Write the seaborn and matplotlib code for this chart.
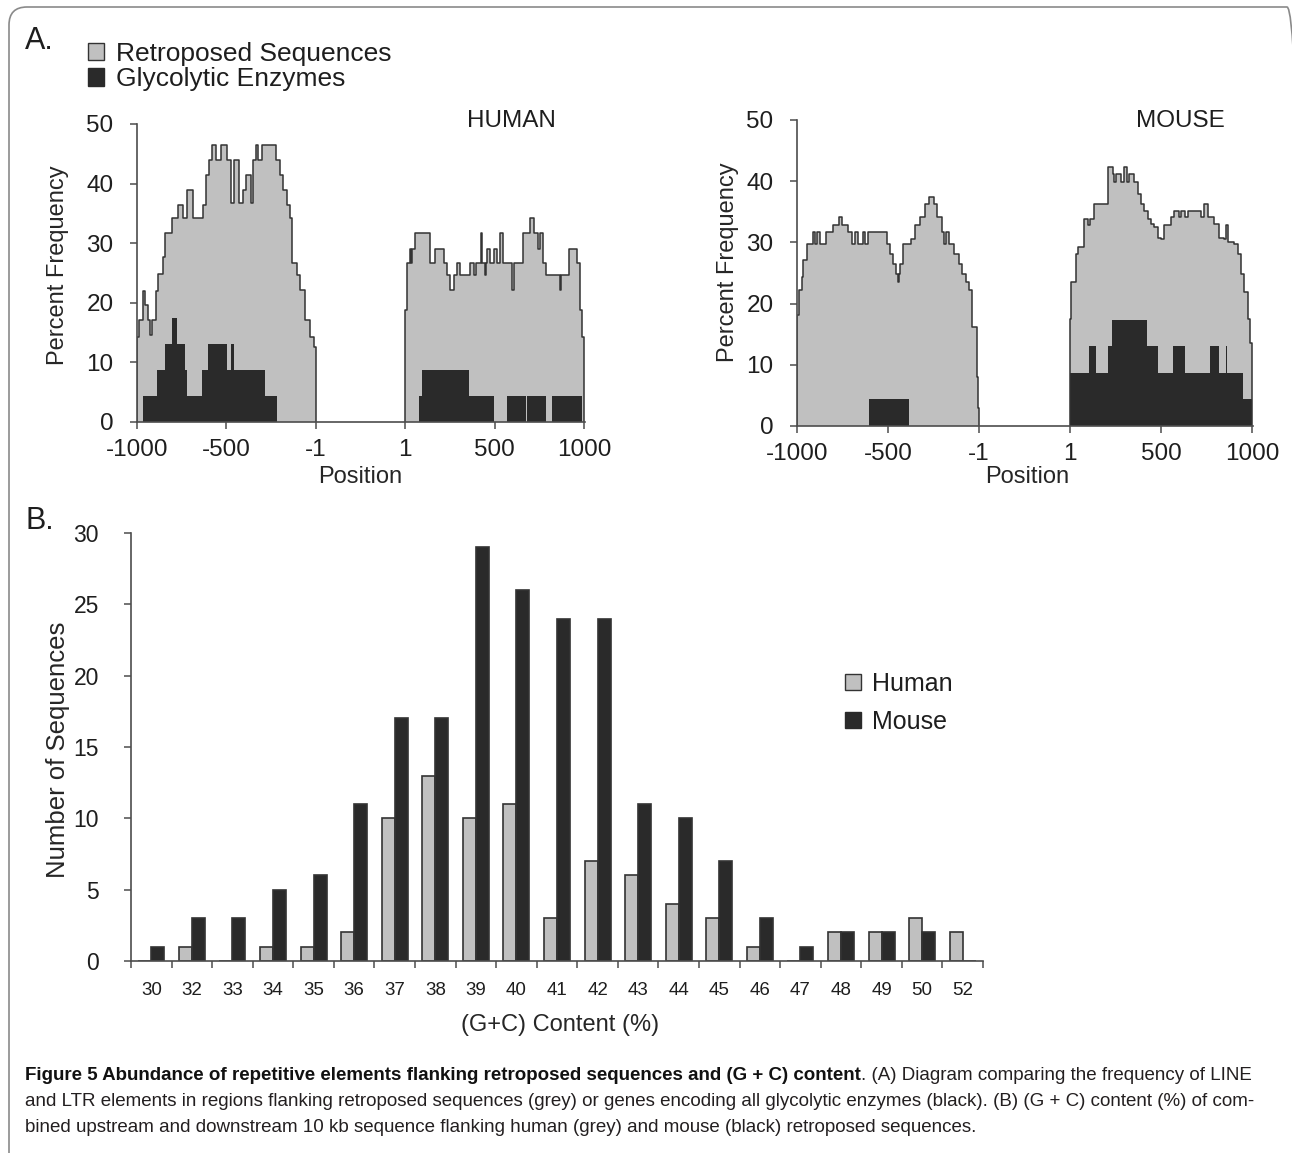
import numpy as np
import pandas as pd
import matplotlib
matplotlib.use("Agg")
import matplotlib.pyplot as plt
import seaborn as sns
from matplotlib.patches import Patch, FancyBboxPatch

sns.set_style("ticks")
plt.rcParams["font.family"] = ["Liberation Sans", "DejaVu Sans"]

GREY = "#c0c0c0"
BLACK = "#2a2a2a"
LINE = "#333333"
AXC = "#4d4d4d"

# ---------------- Panel A data: step profiles (position, percent), value holds until next position
human_left_pos = [-1000, -990, -968, -955, -940, -927, -918, -894, -880, -853, -844, -806, -769, -741, -723,
                  -685, -630, -615, -600, -580, -560, -530, -495, -475, -455, -430, -410, -390, -365, -350,
                  -335, -325, -300, -220, -200, -183, -164, -145, -132, -108, -90, -60, -30, -12, -1]
human_left_val = [14.3, 17.1, 21.9, 19.6, 17.1, 14.6, 17.1, 21.9, 24.9, 27.7, 31.7, 34.2, 36.4, 34.2, 38.9,
                  34.2, 36.4, 41.4, 43.9, 46.5, 43.9, 46.5, 43.9, 36.7, 43.9, 36.7, 38.9, 41.4, 36.7, 43.9,
                  46.5, 43.9, 46.5, 43.9, 41.4, 38.9, 36.4, 34.2, 26.6, 24.6, 22.1, 17.1, 14.3, 12.6, 0]

human_right_pos = [1, 8, 25, 32, 40, 58, 142, 169, 216, 234, 253, 275, 290, 309, 365, 383, 398, 425, 432, 445,
                   452, 460, 476, 495, 514, 532, 545, 600, 607, 659, 700, 719, 741, 756, 770, 790, 868, 872,
                   914, 961, 980, 990, 999]
human_right_val = [18.8, 26.6, 29.1, 26.6, 29.1, 31.7, 26.6, 29.1, 26.6, 24.6, 22.1, 24.6, 26.6, 24.6, 26.6,
                   24.6, 26.6, 31.7, 26.6, 24.6, 26.6, 29.1, 26.6, 29.1, 26.6, 31.7, 26.6, 22.1, 26.6, 31.7,
                   34.2, 31.7, 29.1, 31.7, 26.6, 24.6, 22.1, 24.6, 29.1, 26.6, 18.8, 14.3, 0]

mouse_left_pos = [-1000, -990, -975, -965, -945, -912, -900, -888, -875, -840, -800, -770, -755, -720, -700,
                  -680, -665, -640, -625, -610, -506, -488, -470, -455, -447, -440, -433, -420, -372, -350,
                  -322, -295, -276, -249, -230, -205, -193, -180, -165, -138, -110, -92, -73, -55, -37, -9,
                  -4, -1]
mouse_left_val = [18.1, 22.2, 24.3, 27.1, 29.8, 31.7, 29.8, 31.7, 29.8, 31.7, 32.8, 34.1, 32.8, 31.7, 29.8,
                  31.7, 29.8, 31.7, 29.8, 31.7, 29.8, 28.1, 26.5, 24.9, 23.5, 24.9, 26.5, 29.8, 30.6, 32.8,
                  34.1, 36.3, 37.4, 36.3, 34.1, 31.7, 29.8, 31.7, 29.8, 28.1, 26.5, 24.9, 23.5, 22.2, 16.2,
                  8.0, 3.0, 0]

mouse_right_pos = [1, 8, 34, 43, 80, 100, 110, 135, 208, 235, 245, 254, 281, 300, 312, 327, 354, 373, 391,
                   409, 428, 446, 464, 483, 501, 519, 556, 574, 600, 611, 630, 648, 720, 739, 757, 794, 821,
                   849, 860, 867, 904, 922, 941, 959, 977, 990, 999]
mouse_right_val = [17.5, 23.5, 28.1, 29.2, 33.8, 32.8, 33.8, 36.3, 42.3, 41.2, 39.8, 41.2, 39.8, 42.3, 39.8,
                   41.2, 39.8, 37.9, 36.3, 35.2, 33.8, 33.0, 32.5, 30.8, 30.6, 32.8, 34.1, 35.2, 34.1, 35.2,
                   34.1, 35.2, 34.1, 36.3, 34.1, 33.0, 30.8, 30.6, 32.8, 30.1, 29.8, 28.1, 24.9, 21.9, 17.5,
                   13.5, 0]

# glycolytic enzymes (black)
human_left_gly_pos = [-965, -890, -844, -806, -778, -732, -719, -639, -602, -499, -475, -458, -285, -216]
human_left_gly_val = [4.35, 8.7, 13.04, 17.39, 13.04, 8.7, 4.35, 8.7, 13.04, 8.7, 13.04, 8.7, 4.35, 0]
human_right_gly_pos = [79, 92, 358, 498, 572, 676, 684, 786, 823, 991]
human_right_gly_val = [4.35, 8.7, 4.35, 0, 4.35, 0, 4.35, 0, 4.35, 0]
mouse_left_gly_pos = [-602, -383]
mouse_left_gly_val = [4.35, 0]
mouse_right_gly_pos = [1, 107, 144, 208, 232, 424, 483, 565, 633, 772, 818, 858, 864, 950, 1000]
mouse_right_gly_val = [8.7, 13.04, 8.7, 13.04, 17.39, 13.04, 8.7, 13.04, 8.7, 13.04, 8.7, 13.04, 8.7, 4.35, 0]

pos_ticks = ["-1000", "-500", "-1", "1", "500", "1000"]

# ---------------- Panel B data
gc_content = ["30", "32", "33", "34", "35", "36", "37", "38", "39", "40", "41",
              "42", "43", "44", "45", "46", "47", "48", "49", "50", "52"]
human_counts = [0, 1, 0, 1, 1, 2, 10, 13, 10, 11, 3, 7, 6, 4, 3, 1, 0, 2, 2, 3, 2]
mouse_counts = [1, 3, 3, 5, 6, 11, 17, 17, 29, 26, 24, 24, 11, 10, 7, 3, 1, 2, 2, 2, 0]

W, H = 1292, 1153
fig = plt.figure(figsize=(W / 100, H / 100), dpi=100)


def rect(l, t, r, b):
    return [l / W, 1 - b / H, (r - l) / W, (b - t) / H]


RIGHT_SHIFT = 499  # right flank drawn after a gap


def draw_flank(ax, pos, val, shift, color, outline):
    x = np.array(pos, dtype=float) + shift
    y = np.array(val, dtype=float)
    ax.fill_between(x, y, step="post", color=color, lw=0)
    if outline:
        xo = np.concatenate([[x[0]], x])
        yo = np.concatenate([[0], y])
        sns.lineplot(x=xo, y=yo, estimator=None, sort=False, drawstyle="steps-post",
                     color=LINE, lw=1.1, ax=ax)


def style_axis(ax):
    sns.despine(ax=ax)
    for s in ["left", "bottom"]:
        ax.spines[s].set_color(AXC)
        ax.spines[s].set_linewidth(1.2)
    ax.tick_params(colors=AXC, labelcolor="#1e1e1e", length=5, width=1.1)


ax_h = fig.add_axes(rect(137, 124, 585, 422))
ax_m = fig.add_axes(rect(797, 120, 1253, 426))

panels = [
    (ax_h, human_left_pos, human_left_val, human_right_pos, human_right_val,
     human_left_gly_pos, human_left_gly_val, human_right_gly_pos, human_right_gly_val),
    (ax_m, mouse_left_pos, mouse_left_val, mouse_right_pos, mouse_right_val,
     mouse_left_gly_pos, mouse_left_gly_val, mouse_right_gly_pos, mouse_right_gly_val),
]
for ax, lp, lv, rp, rv, glp, glv, grp, grv in panels:
    draw_flank(ax, lp, lv, 0, GREY, True)
    draw_flank(ax, rp, rv, RIGHT_SHIFT, GREY, True)
    draw_flank(ax, glp, glv, 0, BLACK, False)
    draw_flank(ax, grp, grv, RIGHT_SHIFT, BLACK, False)
    ax.set_xlim(-1000, 1505)
    ax.set_ylim(0, 50)
    ax.set_yticks([0, 10, 20, 30, 40, 50])
    ax.set_xticks([-1000, -500, -1, 1 + RIGHT_SHIFT, 500 + RIGHT_SHIFT, 1000 + RIGHT_SHIFT], pos_ticks)
    style_axis(ax)
    ax.tick_params(axis="both", labelsize=17.5)
    ax.tick_params(axis="y", pad=12)
    ax.tick_params(axis="x", pad=7)
    ax.set_xlabel("Position", fontsize=17)
    ax.set_ylabel("Percent Frequency", fontsize=17)

ax_h.xaxis.set_label_coords(0.498, -0.185)
ax_h.yaxis.set_label_coords(-0.176, 0.527)
ax_m.xaxis.set_label_coords(0.504, -0.167)
ax_m.yaxis.set_label_coords(-0.151, 0.536)
for ax in (ax_h, ax_m):
    ax.xaxis.label.set_va("center")
    ax.yaxis.label.set_va("center")

fig.text(511 / W, 1 - 121 / H, "HUMAN", fontsize=17.5, ha="center", va="center", color="#1e1e1e")
fig.text(1180 / W, 1 - 121 / H, "MOUSE", fontsize=17.5, ha="center", va="center", color="#1e1e1e")

fig.text(25 / W, 1 - 41 / H, "A.", fontsize=22, ha="left", va="center", color="#1e1e1e")
fig.text(25 / W, 1 - 521 / H, "B.", fontsize=22, ha="left", va="center", color="#1e1e1e")

leg_a = fig.legend(handles=[Patch(fc=GREY, ec=LINE, lw=1.0), Patch(fc=BLACK, ec=BLACK, lw=1.0)],
                   labels=["Retroposed Sequences", "Glycolytic Enzymes"],
                   loc="upper left", bbox_to_anchor=(88 / W, 1 - 42 / H), frameon=False, fontsize=19,
                   handlelength=0.62, handleheight=0.62, handletextpad=0.45, labelspacing=0.05,
                   borderpad=0, borderaxespad=0)
for t in leg_a.get_texts():
    t.set_color("#1e1e1e")

# ---------------- Panel B
ax_b = fig.add_axes(rect(131, 533, 983, 961))
gc_df = pd.DataFrame({
    "gc": gc_content * 2,
    "count": human_counts + mouse_counts,
    "species": ["Human"] * len(gc_content) + ["Mouse"] * len(gc_content),
})
sns.barplot(data=gc_df, x="gc", y="count", hue="species", hue_order=["Human", "Mouse"],
            palette=[GREY, BLACK], width=0.64, gap=0, edgecolor=LINE, linewidth=1.2,
            legend=False, ax=ax_b)
ax_b.set_xlim(-0.5, len(gc_content) - 0.5)
ax_b.set_ylim(0, 30)
ax_b.set_yticks(range(0, 31, 5))
style_axis(ax_b)
ax_b.set_xticks(range(len(gc_content)), gc_content)
ax_b.set_xticks(np.arange(-0.5, len(gc_content), 1), minor=True)
ax_b.tick_params(axis="x", which="major", length=0, labelsize=13.5, pad=15)
ax_b.tick_params(axis="x", which="minor", length=5, width=1.1, colors=AXC)
ax_b.tick_params(axis="y", labelsize=16.5, pad=18)
ax_b.set_xlabel("(G+C) Content (%)", fontsize=17)
ax_b.set_ylabel("Number of Sequences", fontsize=18.5)
ax_b.xaxis.set_label_coords(0.5035, -0.15)
ax_b.yaxis.set_label_coords(-0.0857, 0.493)
ax_b.xaxis.label.set_va("center")
ax_b.yaxis.label.set_va("center")

leg_b = ax_b.legend(handles=[Patch(fc=GREY, ec=LINE, lw=1.0), Patch(fc=BLACK, ec=BLACK, lw=1.0)],
                    labels=["Human", "Mouse"], loc="upper left", bbox_to_anchor=(845 / W, 1 - 672 / H),
                    bbox_transform=fig.transFigure, frameon=False, fontsize=18,
                    handlelength=0.62, handleheight=0.62, handletextpad=0.45, labelspacing=0.55,
                    borderpad=0, borderaxespad=0)
for t in leg_b.get_texts():
    t.set_color("#1e1e1e")

# ---------------- caption
cap_font = ["Liberation Sans Narrow", "Liberation Sans", "DejaVu Sans"]
cap_bold = "Figure 5 Abundance of repetitive elements flanking retroposed sequences and (G + C) content"
cap_l1 = ". (A) Diagram comparing the frequency of LINE"
cap_l2 = ("and LTR elements in regions flanking retroposed sequences (grey) or genes encoding all "
          "glycolytic enzymes (black). (B) (G + C) content (%) of com-")
cap_l3 = ("bined upstream and downstream 10 kb sequence flanking human (grey) and mouse (black) "
          "retroposed sequences.")

renderer = fig.canvas.get_renderer()
probe = fig.text(0, 0, cap_l2, fontsize=12, family=cap_font)
w2 = probe.get_window_extent(renderer).width
probe.remove()
cap_fs = 12 * (1262 - 25) / w2

x0 = 25 / W
tb = fig.text(x0, 1 - 1075 / H, cap_bold, fontsize=cap_fs, family=cap_font, weight="bold",
              va="center", color="#111111")
bw = tb.get_window_extent(renderer).width
fig.text(x0 + bw / W, 1 - 1075 / H, cap_l1, fontsize=cap_fs, family=cap_font, va="center", color="#231f20")
fig.text(x0, 1 - 1101 / H, cap_l2, fontsize=cap_fs, family=cap_font, va="center", color="#231f20")
fig.text(x0, 1 - 1127 / H, cap_l3, fontsize=cap_fs, family=cap_font, va="center", color="#231f20")

frame = FancyBboxPatch((0.09, -0.3), 13.05 - 0.09, 11.46 + 0.3,
                       boxstyle="round,pad=0,rounding_size=0.18", transform=fig.dpi_scale_trans,
                       fill=False, ec="#8a8a8a", lw=1.2, clip_on=False)
fig.patches.append(frame)

fig.savefig("out.png", dpi=100)
plt.close(fig)
